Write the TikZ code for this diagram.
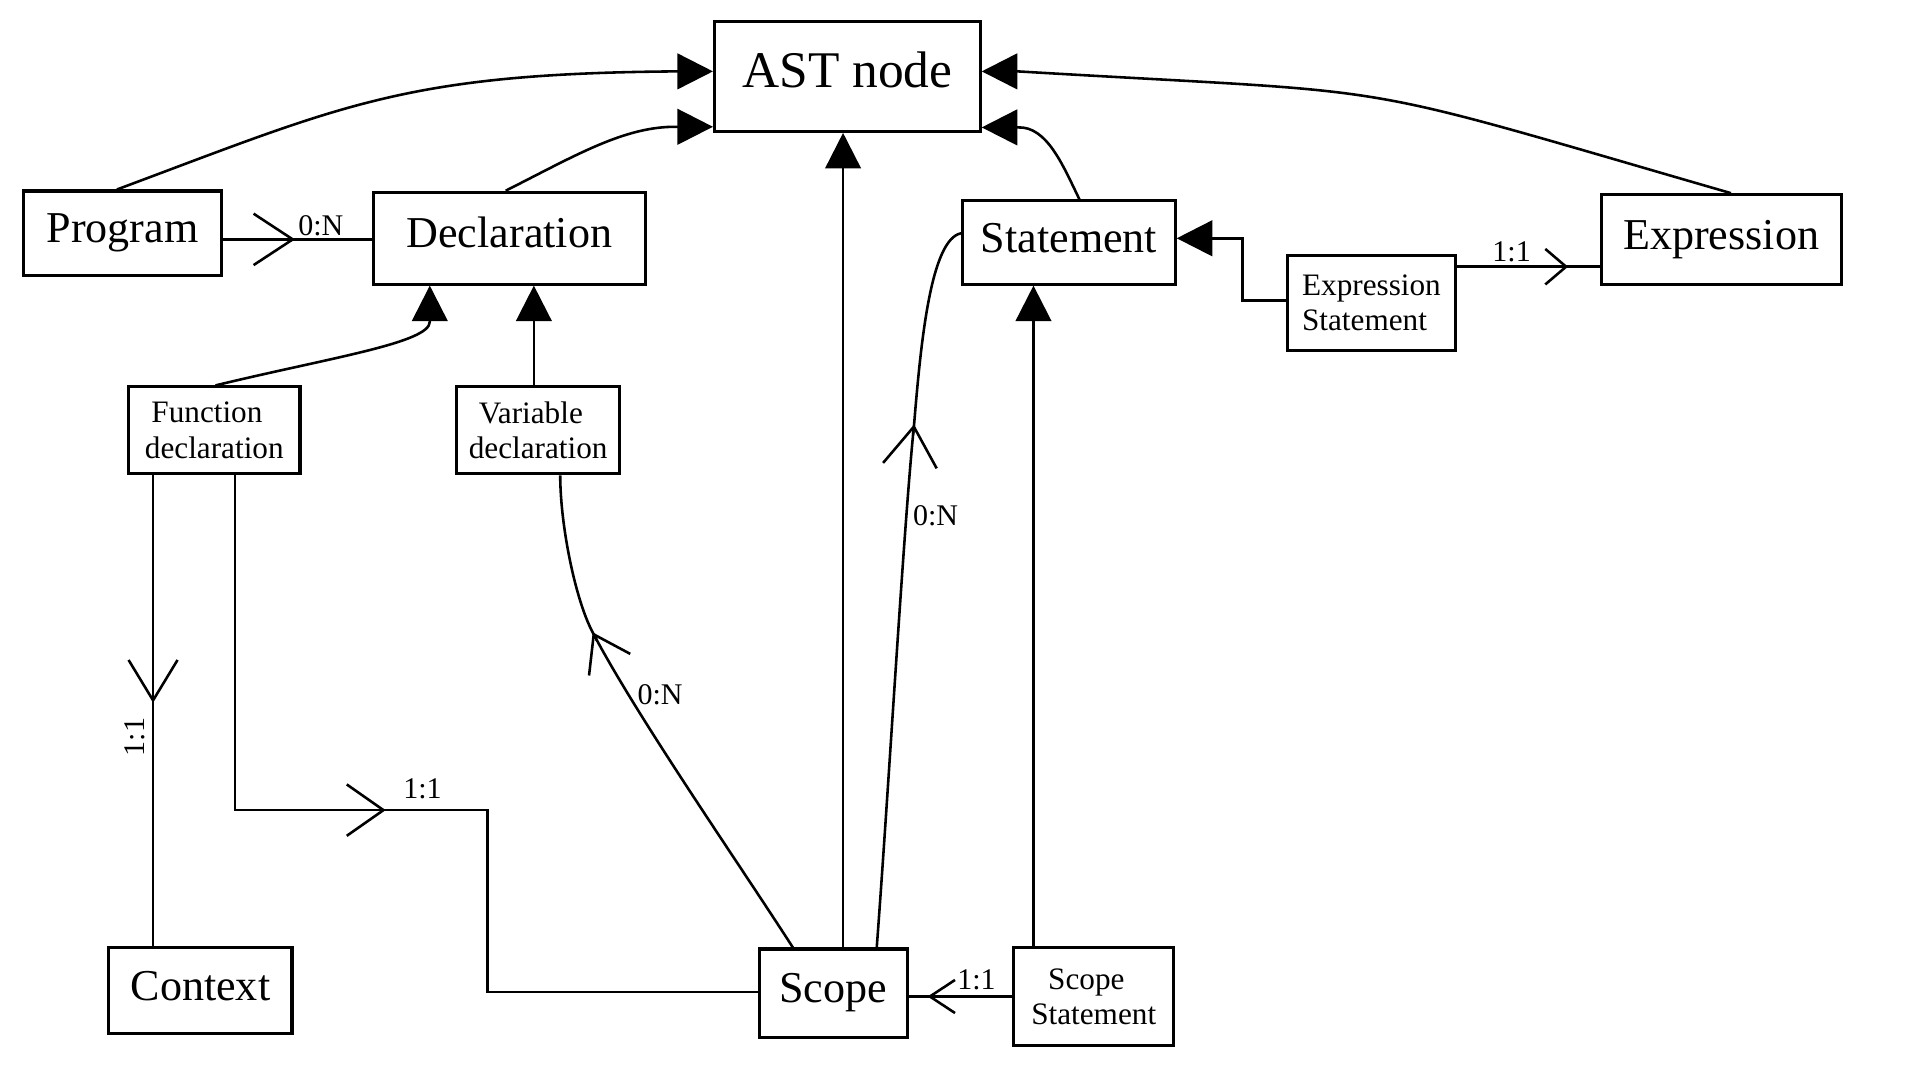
\documentclass[tikz,border=0pt]{standalone}
\usepackage{fontspec}
\setmainfont{Liberation Serif}
\usetikzlibrary{arrows.meta,calc}
\begin{document}
\begin{tikzpicture}[x=1pt,y=-1pt,line width=2.1pt,
  box/.style={draw,line width=2.5pt,inner sep=0pt,rectangle},
  big/.style={box,font=\fontsize{36}{40}\selectfont,text height=24.6pt,text depth=8.8pt},
  small/.style={box,font=\fontsize{25.5}{29}\selectfont,align=center},
  lbl/.style={inner sep=0pt,font=\fontsize{24.5}{26}\selectfont},
  tri/.style={-{Triangle[length=29pt,width=29pt]}},
  crow/.style 2 args={-{Straight Barb[length=#1pt,width=#2pt]}}]
\fill[white] (0,0) rectangle (1568,882);
\useasboundingbox (0,0) rectangle (1568,882);

% nodes
\node[box,font=\fontsize{42}{46}\selectfont,text height=28.7pt,text depth=9.9pt,
      minimum width=217pt,minimum height=90pt] (ast) at (692,62.3) {AST node};
\node[big,minimum width=162pt,minimum height=69pt] (prog) at (100,190.5) {Program};
\node[big,minimum width=222pt,minimum height=75pt] (decl) at (416,194.5) {Declaration};
\node[big,minimum width=173.5pt,minimum height=68pt] (stmt) at (873,198) {Statement};
\node[big,minimum width=196pt,minimum height=73pt] (expr) at (1405.6,195.5) {Expression};
\node[big,minimum width=149.5pt,minimum height=70pt] (ctx) at (163.7,809) {Context};
\node[big,minimum width=121pt,minimum height=72pt] (scope) at (680.5,811) {Scope};
\node[small,align=left,minimum width=137pt,minimum height=77pt] (exst) at (1120,247.5) {Expression\\Statement};
\node[small,minimum width=140pt,minimum height=71pt] (fdecl) at (175,351.5) {Function\makebox[12pt]{}\\declaration};
\node[small,minimum width=133pt,minimum height=71pt] (vdecl) at (439.5,351.5) {Variable\makebox[12pt]{}\\declaration};
\node[small,minimum width=131pt,minimum height=80pt] (sst) at (893.2,814) {Scope\makebox[12pt]{}\\Statement};

% crow-foot points
\coordinate (c1) at (241,195.5);
\coordinate (c2) at (125,574);
\coordinate (c3) at (315,661.6);
\coordinate (c4) at (484,516.4);
\coordinate (c5) at (746.5,346.6);
\coordinate (c6) at (757.5,813.8);
\coordinate (c7) at (1280.6,217.8);

% inheritance arrows to AST node
\draw[tri] ($(prog.north)+(-4.5,0)$) .. controls (280,86) and (330,60) .. ($(ast.west)+(-29.5,-4)$) -- ($(ast.west)+(0,-4)$);
\draw[tri] ($(decl.north)+(-3,0)$) .. controls (470,127) and (510,103) .. ($(ast.south west)+(-29.5,-5)$) -- ($(ast.south west)+(0,-5)$);
\draw[tri] ($(scope.north)+(8,0)$) -- ($(ast.south)+(-3.5,0)$);
\draw[tri] ($(stmt.north)+(8.5,0)$) .. controls (868,135) and (855,103) .. ($(ast.south east)+(29.5,-4.5)$) -- ($(ast.south east)+(0,-4.5)$);
\draw[tri] ($(expr.north)+(8,0)$) .. controls (1086,63) and (1162,78) .. ($(ast.east)+(29.5,-4)$) -- ($(ast.east)+(0,-4)$);

% inheritance to Declaration / Statement
\draw[tri] ($(fdecl.north)+(1,0)$) .. controls (270,292) and (351,280) .. ($(decl.south)+(-65,29.5)$) -- ($(decl.south)+(-65,0)$);
\draw[tri] ($(vdecl.north)+(-3.5,0)$) -- ($(decl.south)+(20,0)$);
\draw[tri] ($(sst.north)+(-49.2,0)$) -- ($(stmt.south)+(-29,0)$);
\draw[tri] ($(exst.west)+(0,-2)$) -- ++(-35.7,0) |- ($(stmt.east)+(0,-3.4)$);

% associations
\draw ($(prog.east)+(0,5)$) -- ($(decl.west)+(0,1)$);
\draw[crow={32}{42}] ($(c1)+(-5,0)$) -- (c1);
\node[lbl] (l1) at (262,184) {0:N};

\draw ($(fdecl.south)+(-50,0)$) -- ($(ctx.north)+(-38.7,0)$);
\draw[crow={33}{40}] ($(c2)+(0,-5)$) -- (c2);
\node[lbl,rotate=90] (l2) at (110,602) {1:1};

\draw ($(fdecl.south)+(17,0)$) |- (c3) -- ++(83,0) |- ($(scope.west)+(0,-1)$);
\draw[crow={30}{42}] ($(c3)+(-5,0)$) -- (c3);
\node[lbl] (l3) at (345,644) {1:1};

\draw ($(scope.north)+(-33,0)$) .. controls (600,700) and (520,585) .. (c4) .. controls (470,490) and (457.6,430) .. ($(vdecl.south)+(18,0)$);
\draw[crow={28}{38}] ($(c4)+(3.6,6.86)$) -- (c4);
\node[lbl] (l4) at (539,567) {0:N};

\draw ($(scope.north)+(35.5,0)$) .. controls (726,640) and (738,430) .. (c5) .. controls (752,280) and (760,195) .. ($(stmt.west)+(0,-7.5)$);
\draw[crow={32}{44}] ($(c5)+(-0.85,8.34)$) -- (c5);
\node[lbl] (l5) at (764,421) {0:N};

\draw ($(sst.west)+(0,-0.2)$) -- ($(scope.east)+(0,2.8)$);
\draw[crow={20.5}{27}] ($(c6)+(5,0)$) -- (c6);
\node[lbl] (l6) at (797.5,800) {1:1};

\draw ($(exst.east)+(0,-29.7)$) -- ($(expr.west)+(0,22.3)$);
\draw[crow={17}{29}] ($(c7)+(-5,0)$) -- (c7);
\node[lbl] (l7) at (1234.5,206) {1:1};
\end{tikzpicture}
\end{document}
